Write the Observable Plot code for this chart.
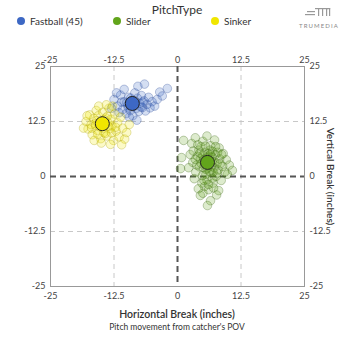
<!DOCTYPE html>
<html>
<head>
<meta charset="utf-8">
<script src="https://cdn.jsdelivr.net/npm/d3@7"></script>
<script src="https://cdn.jsdelivr.net/npm/@observablehq/plot@0.6"></script>
<style>
  html, body { margin: 0; padding: 0; background: #fff; }
  body { width: 354px; height: 354px; position: relative; overflow: hidden; font-family: Lato, "Open Sans", sans-serif; }
</style>
</head>
<body>
<script>
// ---- data ----
const types = ["Fastball", "Slider", "Sinker"];
const legendLabels = ["Fastball (45)", "Slider", "Sinker"];
const typeColors = ["#3d68c4", "#62a51b", "#f0e600"];
const typeStroke = ["#2a4a96", "#355f0c", "#a8a000"];
const axisTicks = [-25, -12.5, 0, 12.5, 25];

const fastball = [[-12.5,17.5],[-11.8,16.0],[-11.2,18.5],[-10.8,15.2],[-10.5,17.0],[-10.1,14.3],[-9.8,16.2],[-9.6,18.0],[-9.3,15.0],[-9.0,17.3],[-8.8,13.8],[-8.6,16.0],[-8.4,19.0],[-8.1,15.5],[-7.9,17.8],[-7.6,14.8],[-7.4,16.6],[-7.1,18.4],[-6.9,15.7],[-6.6,17.2],[-6.3,14.9],[-6.0,16.4],[-5.7,18.0],[-5.4,15.6],[-5.0,17.0],[-4.5,16.0],[-4.0,17.5],[-3.5,19.2],[-2.0,20.0],[-3.0,18.3],[-6.5,21.0],[-7.8,20.5],[-10.5,19.8],[-12.0,19.0],[-13.0,15.5],[-11.5,14.5],[-9.5,13.5],[-8.0,12.8],[-10.0,16.8],[-9.2,17.8],[-7.2,15.8],[-8.3,17.1],[-9.7,15.6],[-6.8,16.9],[-11.0,16.9]];

const sinker = [[-18.0,12.5],[-17.6,10.8],[-17.3,14.0],[-17.0,11.8],[-16.8,9.5],[-16.5,13.2],[-16.2,12.0],[-16.0,15.0],[-15.8,10.5],[-15.6,13.8],[-15.3,11.3],[-15.1,8.6],[-14.9,12.6],[-14.7,14.6],[-14.5,10.0],[-14.3,11.8],[-14.1,13.3],[-13.9,9.2],[-13.7,12.3],[-13.5,15.5],[-13.3,10.9],[-13.1,13.0],[-12.9,11.5],[-12.6,8.2],[-12.4,14.2],[-12.1,10.3],[-11.8,12.2],[-11.5,9.0],[-11.2,13.5],[-10.8,11.0],[-10.4,8.5],[-10.0,10.0],[-9.5,11.8],[-17.8,13.8],[-16.4,8.2],[-15.5,16.0],[-14.0,16.3],[-12.8,16.0],[-18.5,11.0],[-13.2,7.3],[-15.0,7.6],[-11.0,7.2],[-14.6,11.0],[-15.9,12.7],[-13.8,13.7],[-12.2,11.2],[-16.9,11.0],[-14.2,9.8],[-15.2,12.1],[-14.4,12.9],[-13.6,11.4],[-16.1,11.6],[-15.7,9.6],[-13.0,9.9]];

const slider = [[1.2,8.2],[0.8,4.3],[0.6,1.8],[10.8,1.4],[8.1,-3.2],[6.5,-5.5],[5.9,-6.6],[4.5,-4.3],[2.8,7.5],[3.5,8.8],[4.2,6.0],[5.0,8.0],[5.8,9.2],[6.5,7.0],[7.3,8.3],[8.2,6.5],[9.0,5.2],[9.6,3.8],[10.2,2.6],[9.8,0.5],[2.5,5.0],[3.0,3.2],[3.6,1.0],[3.9,4.6],[4.3,2.2],[4.6,6.8],[4.9,0.2],[5.2,3.9],[5.4,5.5],[5.6,1.6],[5.8,-0.8],[6.0,2.8],[6.2,4.6],[6.4,6.0],[6.6,0.9],[6.8,3.5],[7.0,-1.5],[7.2,2.0],[7.4,4.9],[7.6,0.0],[7.8,3.0],[8.0,1.5],[8.3,4.0],[8.6,-0.9],[8.9,2.3],[5.3,-2.3],[6.1,-3.0],[7.1,-2.6],[4.8,-1.5],[3.3,-0.5],[4.0,7.2],[5.5,6.9],[6.9,5.7],[7.9,5.5],[2.2,2.0],[3.1,5.8],[4.5,4.0],[5.1,2.0],[6.3,1.2],[7.5,6.8],[8.7,5.0],[9.3,1.0],[5.7,4.2],[6.7,2.4],[4.1,-2.8],[5.0,-3.8],[7.7,-4.2],[3.8,2.6],[6.0,5.2],[7.0,1.0],[5.4,3.1],[6.2,3.6],[5.0,4.8],[6.8,4.4],[5.9,1.9],[4.7,2.9],[7.3,3.3],[6.5,5.0],[5.6,0.5],[4.4,5.3],[6.9,-0.4],[5.2,-0.9],[6.1,-1.8],[7.8,0.8],[8.4,2.9],[3.5,3.9]];

const meanX = [-8.9, 5.9, -14.8];
const meanY = [16.6, 3.2, 12.0];

// ---- build ----
const pts = [];
[fastball, slider, sinker].forEach((arr, i) => arr.forEach(([x, y]) => pts.push({type: types[i], x, y})));
const means = types.map((t, i) => ({type: t, x: meanX[i], y: meanY[i]}));

function addDiv(css, html) {
  const d = document.createElement("div");
  d.style.cssText = "position:absolute;" + css;
  d.innerHTML = html;
  document.body.appendChild(d);
  return d;
}

// legend
addDiv("left:0;width:354px;top:3px;text-align:center;font-size:12px;line-height:14px;color:#333;", "PitchType");
const legX = [17, 113, 211];
legendLabels.forEach((lab, i) => {
  addDiv(`left:${legX[i]}px;top:15px;font-size:10px;line-height:12px;color:#333;display:flex;align-items:center;`,
    `<span style="display:inline-block;width:8px;height:8px;border-radius:50%;margin-right:5px;background:${typeColors[i]}"></span>${lab}`);
});
// logo
addDiv("left:296px;top:3px;", `<svg width="50" height="28">
  <g fill="#999">
   <rect x="11" y="8" width="8" height="1.2"/><rect x="9" y="11" width="10" height="1.2"/>
   <rect x="19" y="5" width="13" height="1.2"/><rect x="22" y="5" width="1.2" height="8"/>
   <rect x="26" y="5" width="1.2" height="8"/><rect x="30" y="5" width="1.2" height="8"/>
   <rect x="33" y="5" width="1.2" height="8"/><rect x="30" y="5" width="4.2" height="1.2"/>
  </g>
  <text x="23" y="25" text-anchor="middle" font-size="6" letter-spacing="1.1" fill="#888" font-family="Lato, sans-serif">TRUMEDIA</text>
</svg>`);

const fmt = d => String(d);
const plot = Plot.plot({
  width: 354,
  height: 276,
  marginLeft: 50,
  marginRight: 50,
  marginTop: 36,
  marginBottom: 20,
  style: {fontFamily: "Lato, sans-serif", fontSize: "9px", color: "#444", background: "transparent", overflow: "visible"},
  x: {domain: [-25, 25]},
  y: {domain: [-25, 25]},
  color: {domain: types, range: typeColors, legend: false},
  marks: [
    Plot.gridX(axisTicks.filter(d => d !== 0), {stroke: "#c8c8c8", strokeOpacity: 1, strokeDasharray: "5,4"}),
    Plot.gridY(axisTicks.filter(d => d !== 0), {stroke: "#c8c8c8", strokeOpacity: 1, strokeDasharray: "5,4"}),
    Plot.frame({stroke: "#999"}),
    Plot.ruleX([0], {stroke: "#555", strokeWidth: 2, strokeDasharray: "6,4"}),
    Plot.ruleY([0], {stroke: "#555", strokeWidth: 2, strokeDasharray: "6,4"}),
    Plot.dot(pts, {x: "x", y: "y", r: 4.3, fill: "type", fillOpacity: 0.22,
      stroke: d => typeStroke[types.indexOf(d.type)], strokeOpacity: 0.3, strokeWidth: 1}),
    Plot.dot(means, {x: "x", y: "y", r: 7, fill: "type", stroke: "#222", strokeWidth: 1}),
    Plot.axisX(axisTicks, {anchor: "top", tickSize: 0, tickPadding: 4, tickFormat: fmt, label: null}),
    Plot.axisX(axisTicks, {anchor: "bottom", tickSize: 0, tickPadding: 6, tickFormat: fmt, label: null}),
    Plot.axisY(axisTicks, {anchor: "left", tickSize: 0, tickPadding: 5, tickFormat: fmt, label: null}),
    Plot.axisY(axisTicks, {anchor: "right", tickSize: 0, tickPadding: 5, tickFormat: fmt, label: null}),
    Plot.text(["Vertical Break (inches)"], {frameAnchor: "right", textAnchor: "middle", dx: 26, rotate: 90, fontSize: 10, fontWeight: 600, fill: "#333"})
  ]
});
plot.style.position = "absolute";
plot.style.left = "0px";
plot.style.top = "30px";
document.body.appendChild(plot);

addDiv("left:0;width:354px;top:308px;text-align:center;font-size:10.5px;line-height:13px;color:#333;font-weight:600;", "Horizontal Break (inches)");
addDiv("left:0;width:354px;top:322px;text-align:center;font-size:8.5px;line-height:10px;color:#333;", "Pitch movement from catcher's POV");
</script>
</body>
</html>
